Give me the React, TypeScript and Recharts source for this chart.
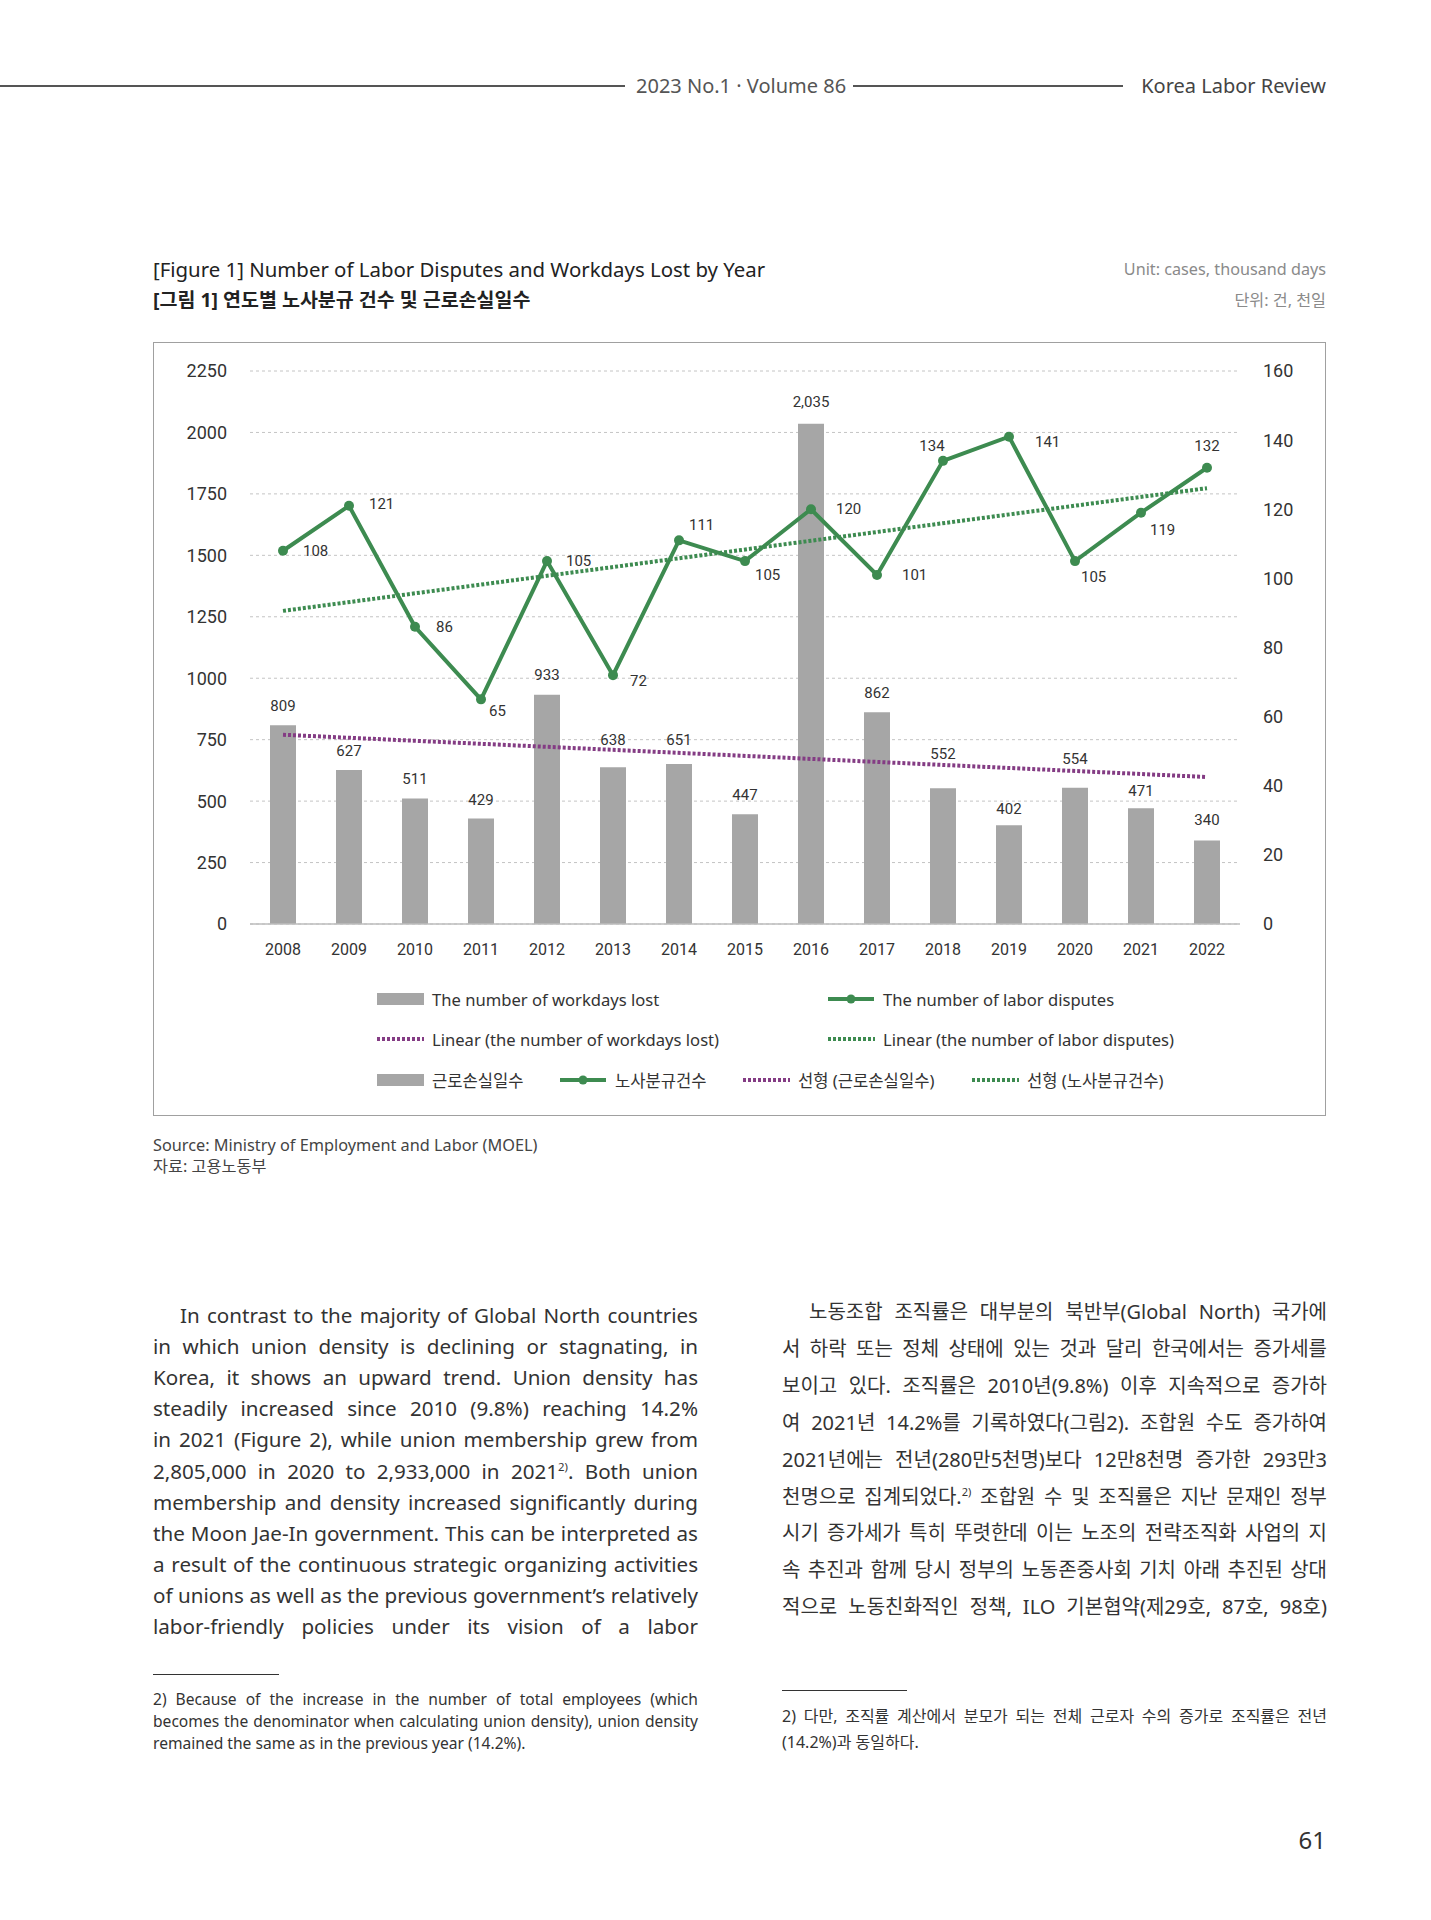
import * as React from 'react';
import { ComposedChart, Bar, Line, XAxis, YAxis, CartesianGrid, LabelList } from 'recharts';

const years = ['2008', '2009', '2010', '2011', '2012', '2013', '2014', '2015', '2016', '2017', '2018', '2019', '2020', '2021', '2022'];
const workdaysLost = [809, 627, 511, 429, 933, 638, 651, 447, 2035, 862, 552, 402, 554, 471, 340];
const laborDisputes = [108, 121, 86, 65, 105, 72, 111, 105, 120, 101, 134, 141, 105, 119, 132];
// trendline end values (first / last year)
const workdaysTrendEnds = [770, 598];
const disputesTrendEnds = [90.6, 126.1];
const leftTicks = [0, 250, 500, 750, 1000, 1250, 1500, 1750, 2000, 2250];
const rightTicks = [0, 20, 40, 60, 80, 100, 120, 140, 160];

// extra lift (px) of some bar labels so they clear the trend line
const barLabelLift = [0, 0, 0, 0, 1, 8, 5, 0, 3, 0, 15, -3, 10, -2, 1];

// where each dispute label sits relative to its point
const disputeLabelPos: [number, number, string][] = [
  [20, 0, 'start'], [20, -2, 'start'], [21, 0, 'start'], [8, 12, 'start'], [19, 0, 'start'],
  [17, 6, 'start'], [10, -15, 'start'], [10, 14, 'start'], [25, 0, 'start'], [25, 0, 'start'],
  [-11, -15, 'middle'], [26, 5, 'start'], [6, 16, 'start'], [9, 17, 'start'], [0, -22, 'middle'],
];

const last = years.length - 1;
const data = years.map((year, i) => ({
  year,
  lost: workdaysLost[i],
  disputes: laborDisputes[i],
  lostTrend: i === 0 ? workdaysTrendEnds[0] : i === last ? workdaysTrendEnds[1] : null,
  disputesTrend: i === 0 ? disputesTrendEnds[0] : i === last ? disputesTrendEnds[1] : null,
}));

const GREEN = '#3d8b50';
const PURPLE = '#843c84';
const GRAY = '#a6a6a6';
const NUM_FONT = 'Roboto, "Noto Sans", sans-serif';
const KR_FONT = '"Noto Sans", "Noto Sans CJK KR", sans-serif';

const BarValueLabel = (props: any) => {
  const { x, y, width, value, index } = props;
  return (
    <text x={x + width / 2} y={y - 14 - (barLabelLift[index] || 0)} textAnchor="middle" fontSize={15} fill="#333" fontFamily={NUM_FONT}>
      {Number(value).toLocaleString('en-US')}
    </text>
  );
};

const DisputeLabel = (props: any) => {
  const { x, y, value, index } = props;
  const [dx, dy, anchor] = disputeLabelPos[index];
  return (
    <text x={x + dx} y={y + dy} textAnchor={anchor as any} dominantBaseline="central" fontSize={15} fill="#333" fontFamily={NUM_FONT}>
      {value}
    </text>
  );
};

const leftLines = [
  'In contrast to the majority of Global North countries',
  'in which union density is declining or stagnating, in',
  'Korea, it shows an upward trend. Union density has',
  'steadily increased since 2010 (9.8%) reaching 14.2%',
  'in 2021 (Figure 2), while union membership grew from',
  '2,805,000 in 2020 to 2,933,000 in 2021|. Both union',
  'membership and density increased significantly during',
  'the Moon Jae-In government. This can be interpreted as',
  'a result of the continuous strategic organizing activities',
  'of unions as well as the previous government\u2019s relatively',
  'labor-friendly policies under its vision of a labor',
];

const rightLines = [
  '노동조합 조직률은 대부분의 북반부(Global North) 국가에',
  '서 하락 또는 정체 상태에 있는 것과 달리 한국에서는 증가세를',
  '보이고 있다. 조직률은 2010년(9.8%) 이후 지속적으로 증가하',
  '여 2021년 14.2%를 기록하였다(그림2). 조합원 수도 증가하여',
  '2021년에는 전년(280만5천명)보다 12만8천명 증가한 293만3',
  '천명으로 집계되었다.| 조합원 수 및 조직률은 지난 문재인 정부',
  '시기 증가세가 특히 뚜렷한데 이는 노조의 전략조직화 사업의 지',
  '속 추진과 함께 당시 정부의 노동존중사회 기치 아래 추진된 상대',
  '적으로 노동친화적인 정책, ILO 기본협약(제29호, 87호, 98호)',
];

// "|" marks the footnote reference
function withNote(line: string) {
  const parts = line.split('|');
  if (parts.length === 1) return line;
  return (
    <>
      {parts[0]}
      <sup style={{ fontSize: '0.55em', verticalAlign: '0.7em', lineHeight: 0 }}>2)</sup>
      {parts[1]}
    </>
  );
}

function JustLine({ text, left, top, width, size, lh, indent = 0, justify = true, color = '#333', family = KR_FONT }: any) {
  return (
    <div
      style={{
        position: 'absolute',
        left: left + indent,
        top,
        width: width - indent,
        fontSize: size,
        lineHeight: `${lh}px`,
        height: lh,
        whiteSpace: 'nowrap',
        textAlign: justify ? 'justify' : 'left',
        textAlignLast: justify ? 'justify' : 'left',
        color,
        fontFamily: family,
      }}
    >
      {withNote(text)}
    </div>
  );
}

function Swatch({ kind }: { kind: string }) {
  return (
    <svg width={48} height={14} style={{ marginRight: 7, flex: 'none' }}>
      {kind === 'bar' && <rect x={0} y={1} width={47} height={12} fill={GRAY} />}
      {kind === 'line' && (
        <>
          <line x1={0} y1={7} x2={46} y2={7} stroke={GREEN} strokeWidth={4} />
          <circle cx={23} cy={7} r={4.5} fill={GREEN} />
        </>
      )}
      {kind === 'ptrend' && <line x1={0} y1={7} x2={47} y2={7} stroke={PURPLE} strokeWidth={4} strokeDasharray="3 2" />}
      {kind === 'gtrend' && <line x1={0} y1={7} x2={47} y2={7} stroke={GREEN} strokeWidth={4} strokeDasharray="3 2" />}
    </svg>
  );
}

function LegendItem({ kind, label, left, cy }: any) {
  return (
    <div style={{ position: 'absolute', left, top: cy - 12, height: 24, display: 'flex', alignItems: 'center', fontSize: 16.6, color: '#333', fontFamily: KR_FONT, whiteSpace: 'nowrap' }}>
      <Swatch kind={kind} />
      {label}
    </div>
  );
}

export default function App(): React.JSX.Element {
  return (
    <div style={{ position: 'absolute', left: 0, top: 0, width: 1431, height: 1920, background: '#fff', fontFamily: KR_FONT, overflow: 'hidden' }}>
      {/* running header */}
      <div style={{ position: 'absolute', left: 0, top: 85, width: 625, height: 2, background: '#555' }} />
      <div style={{ position: 'absolute', left: 636, top: 73, fontSize: 20, lineHeight: '26px', color: '#555' }}>2023 No.1 · Volume 86</div>
      <div style={{ position: 'absolute', left: 853, top: 85, width: 270, height: 2, background: '#555' }} />
      <div style={{ position: 'absolute', right: 105, top: 73, fontSize: 20, lineHeight: '26px', color: '#444' }}>Korea Labor Review</div>

      {/* figure title */}
      <div style={{ position: 'absolute', left: 153, top: 256, fontSize: 20.4, lineHeight: '26px', color: '#222' }}>
        [Figure 1] Number of Labor Disputes and Workdays Lost by Year
      </div>
      <div style={{ position: 'absolute', left: 153, top: 287, fontSize: 19.5, lineHeight: '26px', color: '#222', fontWeight: 700 }}>
        [그림 1] 연도별 노사분규 건수 및 근로손실일수
      </div>
      <div style={{ position: 'absolute', right: 105, top: 257, fontSize: 16.2, lineHeight: '24px', color: '#8a8a8a' }}>Unit: cases, thousand days</div>
      <div style={{ position: 'absolute', right: 105, top: 288, fontSize: 16.2, lineHeight: '24px', color: '#8a8a8a' }}>단위: 건, 천일</div>

      {/* chart frame */}
      <div style={{ position: 'absolute', left: 153, top: 342, width: 1173, height: 774, border: '1.5px solid #a0a0a0', boxSizing: 'border-box' }} />

      <div style={{ position: 'absolute', left: 153, top: 342 }}>
        <ComposedChart width={1173} height={622} data={data} margin={{ top: 29, right: 0, left: 0, bottom: 0 }}>
          <CartesianGrid yAxisId="left" vertical={false} stroke="#c4c4c4" strokeDasharray="3 3" />
          <XAxis
            dataKey="year"
            interval={0}
            tickLine={false}
            tickSize={0}
            tickMargin={20}
            height={40}
            axisLine={{ stroke: '#bdbdbd', strokeWidth: 1.5 }}
            tick={{ fontSize: 16, fill: '#333', fontFamily: NUM_FONT }}
          />
          <YAxis
            yAxisId="left"
            domain={[0, 2250]}
            ticks={leftTicks}
            width={97}
            axisLine={false}
            tickLine={false}
            tickSize={0}
            tickMargin={23}
            tick={{ fontSize: 18, fill: '#333', fontFamily: NUM_FONT }}
          />
          <YAxis
            yAxisId="right"
            orientation="right"
            domain={[0, 160]}
            ticks={rightTicks}
            width={86}
            axisLine={false}
            tickLine={false}
            tickSize={0}
            tickMargin={23}
            tick={{ fontSize: 18, fill: '#333', fontFamily: NUM_FONT }}
          />
          <Bar yAxisId="left" dataKey="lost" fill={GRAY} barSize={26} isAnimationActive={false}>
            <LabelList dataKey="lost" content={BarValueLabel} />
          </Bar>
          <Line
            yAxisId="left"
            dataKey="lostTrend"
            stroke={PURPLE}
            strokeWidth={4}
            strokeDasharray="3 2"
            dot={false}
            activeDot={false}
            connectNulls
            isAnimationActive={false}
          />
          <Line
            yAxisId="right"
            dataKey="disputesTrend"
            stroke={GREEN}
            strokeWidth={4}
            strokeDasharray="3 2"
            dot={false}
            activeDot={false}
            connectNulls
            isAnimationActive={false}
          />
          <Line
            yAxisId="right"
            dataKey="disputes"
            stroke={GREEN}
            strokeWidth={4}
            dot={{ r: 5, fill: GREEN, stroke: GREEN, strokeWidth: 0 }}
            activeDot={false}
            isAnimationActive={false}
          >
            <LabelList dataKey="disputes" content={DisputeLabel} />
          </Line>
        </ComposedChart>
      </div>

      {/* legend */}
      <LegendItem kind="bar" label="The number of workdays lost" left={377} cy={999} />
      <LegendItem kind="line" label="The number of labor disputes" left={828} cy={999} />
      <LegendItem kind="ptrend" label="Linear (the number of workdays lost)" left={377} cy={1039} />
      <LegendItem kind="gtrend" label="Linear (the number of labor disputes)" left={828} cy={1039} />
      <LegendItem kind="bar" label="근로손실일수" left={377} cy={1080} />
      <LegendItem kind="line" label="노사분규건수" left={560} cy={1080} />
      <LegendItem kind="ptrend" label="선형 (근로손실일수)" left={743} cy={1080} />
      <LegendItem kind="gtrend" label="선형 (노사분규건수)" left={972} cy={1080} />

      {/* source */}
      <div style={{ position: 'absolute', left: 153, top: 1135, fontSize: 16.3, lineHeight: '21px', color: '#444' }}>
        Source: Ministry of Employment and Labor (MOEL)
        <br />
        자료: 고용노동부
      </div>

      {/* body text */}
      {leftLines.map((t, i) => (
        <JustLine key={`l${i}`} text={t} left={153} top={1300 + i * 31.1} width={545} size={20.6} lh={30} indent={i === 0 ? 27 : 0} />
      ))}
      {rightLines.map((t, i) => (
        <JustLine key={`r${i}`} text={t} left={782} top={1297 + i * 36.9} width={545} size={20} lh={30} indent={i === 0 ? 27 : 0} />
      ))}

      {/* footnotes */}
      <div style={{ position: 'absolute', left: 153, top: 1674, width: 126, height: 1, background: '#333' }} />
      <JustLine text="2) Because of the increase in the number of total employees (which" left={153} top={1688} width={545} size={15.6} lh={22} />
      <JustLine text="becomes the denominator when calculating union density), union density" left={153} top={1710} width={545} size={15.6} lh={22} />
      <JustLine text="remained the same as in the previous year (14.2%)." left={153} top={1732} width={545} size={15.6} lh={22} justify={false} />

      <div style={{ position: 'absolute', left: 782, top: 1690, width: 125, height: 1, background: '#333' }} />
      <JustLine text="2) 다만, 조직률 계산에서 분모가 되는 전체 근로자 수의 증가로 조직률은 전년" left={782} top={1705} width={545} size={16} lh={22} />
      <JustLine text="(14.2%)과 동일하다." left={782} top={1731} width={545} size={16} lh={22} justify={false} />

      {/* page number */}
      <div style={{ position: 'absolute', right: 105, top: 1826, fontSize: 24, lineHeight: '28px', color: '#333' }}>61</div>
    </div>
  );
}
